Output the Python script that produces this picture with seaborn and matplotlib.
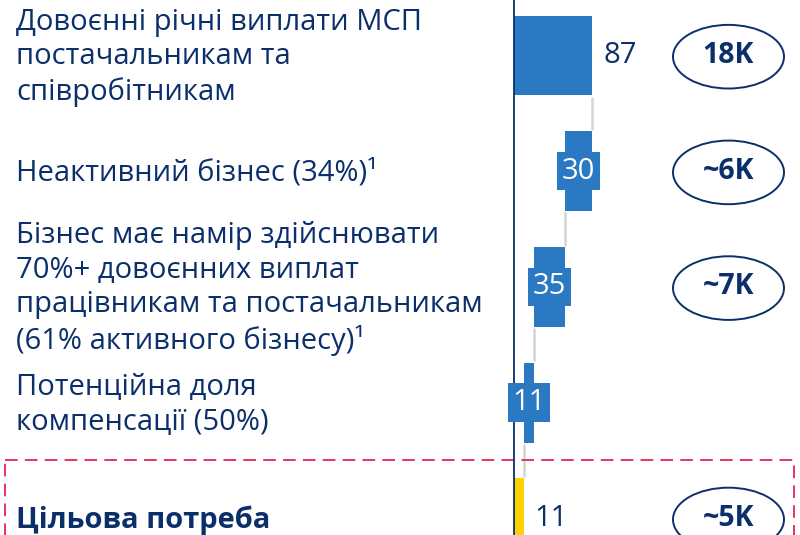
import matplotlib
matplotlib.use("Agg")
import matplotlib.pyplot as plt
import matplotlib.patches as mpatches
import seaborn as sns
import pandas as pd

# chart data
labels = [
    "Довоєнні річні виплати МСП\nпостачальникам та\nспівробітникам",
    "Неактивний бізнес (34%)¹",
    "Бізнес має намір здійснювати\n70%+ довоєнних виплат\nпрацівникам та постачальникам\n(61% активного бізнесу)¹",
    "Потенційна доля\nкомпенсації (50%)",
    "Цільова потреба",
]
values = [87, 30, 35, 11, 11]
kinds = ["total", "minus", "minus", "minus", "total"]
bubbles = ["18K", "~6K", "~7K", "", "~5K"]

navy = "#0b2f6b"
blue = "#2b78c3"
yellow = "#ffd100"
bar_colors = [blue, blue, blue, blue, yellow]

# waterfall start / end for each bar
starts, ends = [], []
level = 0
for v, k in zip(values, kinds):
    if k == "total":
        starts.append(0)
        ends.append(v)
        level = v
    else:
        starts.append(level - v)
        ends.append(level)
        level = level - v

df = pd.DataFrame({
    "row": ["r%d" % i for i in range(len(values))],
    "value": values,
    "start": starts,
    "end": ends,
})

sns.set_style("white")
plt.rcParams["font.family"] = ["Open Sans", "DejaVu Sans"]

fig = plt.figure(figsize=(8, 5.35), dpi=100)
ax = fig.add_axes([0, 0, 1, 1])

bar_h = 0.69
sns.barplot(data=df, x="value", y="row", orient="h", left=df["start"].values,
            width=bar_h, color=blue, errorbar=None, saturation=1, ax=ax)
for patch, c in zip(ax.patches, bar_colors):
    patch.set_facecolor(c)
    patch.set_edgecolor("none")

px = 0.9  # pixels per unit
ax.set_xlim(-514 / px, 286 / px)
ax.set_ylim(4.144, -0.48)
ax.axis("off")

# axis line at zero
ax.axvline(0, color=navy, lw=1.3, zorder=5)

# connectors between bars: at the level where the previous bar ends
gap = 0.02
for i in range(len(values) - 1):
    x = starts[i] if kinds[i] == "minus" else ends[i]
    ax.plot([x, x], [i + bar_h / 2 + gap, i + 1 - bar_h / 2 - gap],
            color="#d4d4d4", lw=1.8, zorder=1)

fs = 21

# value labels
for i, (v, k) in enumerate(zip(values, kinds)):
    if k == "total":
        ax.text(ends[i] + 12, i, str(v), ha="left", va="center",
                fontsize=fs, color=navy)
    else:
        ax.text((starts[i] + ends[i]) / 2, i, str(v), ha="center", va="center",
                fontsize=fs, color="white", zorder=7,
                bbox=dict(boxstyle="square,pad=0.16", fc=blue, ec="none"))

# row labels on the left
ytr = ax.get_yaxis_transform()
for i, lab in enumerate(labels):
    bold = i == len(labels) - 1
    ax.text(16 / 800, i + 0.015, lab, transform=ytr, ha="left", va="center",
            fontsize=fs, color=navy, linespacing=1.25,
            fontweight="bold" if bold else "normal")

# bubbles
for i, b in enumerate(bubbles):
    if not b:
        continue
    ax.add_patch(mpatches.Ellipse((728.5 / 800, i + 0.01), 111 / 800, 0.55,
                                  transform=ytr, fc="white", ec=navy, lw=1.4,
                                  zorder=4))
    ax.text(728.5 / 800, i, b, transform=ytr, ha="center", va="center",
            fontsize=20.5, fontweight="bold", color=navy, zorder=6)

# dashed highlight box around the target row
ax.add_patch(mpatches.Rectangle((5 / 800, 3.5), 789 / 800, 1.2, transform=ytr,
                                fill=False, ec="#e6244f", lw=1.3,
                                ls=(0, (7, 4)), zorder=3))

fig.savefig("out.png", dpi=100)
